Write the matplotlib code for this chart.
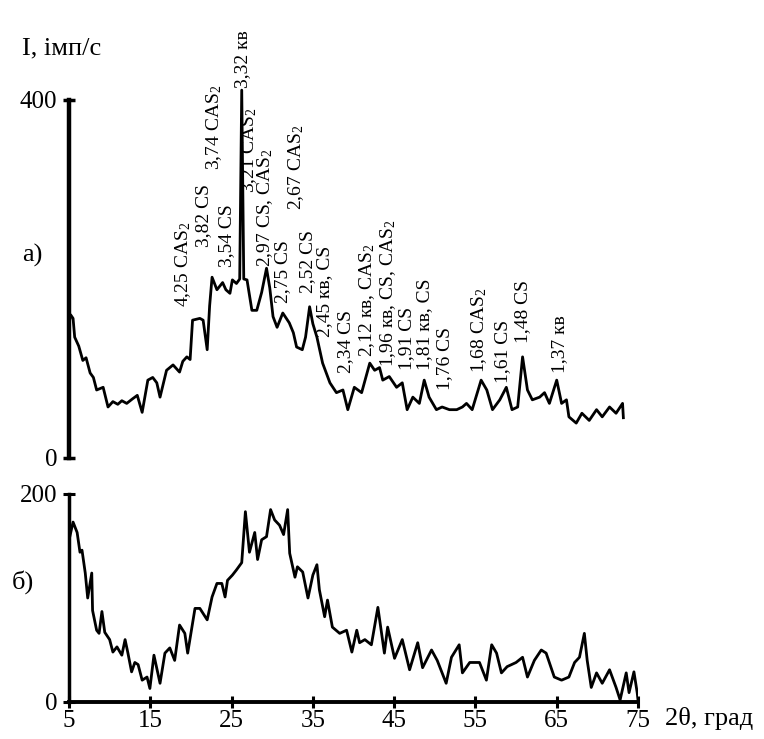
import matplotlib
matplotlib.use("Agg")
import matplotlib.pyplot as plt

plt.rcParams['font.family'] = ['Liberation Serif', 'DejaVu Serif']
plt.rcParams['mathtext.fontset'] = 'custom'
plt.rcParams['mathtext.rm'] = 'Liberation Serif'
plt.rcParams['mathtext.it'] = 'Liberation Serif:italic'

# а) дифрактограма (2θ, град ; I, імп/с)
theta_a = [5.0, 5.2, 5.5, 5.7, 6.2, 6.7, 7.1, 7.6, 8.0, 8.4, 9.2, 9.8, 10.4, 11.0,
           11.5, 12.1, 12.8, 13.4, 14.0, 14.7, 15.3, 15.8, 16.2, 17.0, 17.8, 18.6,
           19.0, 19.5, 19.9, 20.2, 21.1, 21.5, 22.0, 22.3, 22.6, 23.2, 23.9, 24.3,
           24.8, 25.1, 25.6, 26.0, 26.25, 26.5, 26.9, 27.5, 28.1, 28.7, 29.3, 29.7,
           30.1, 30.6, 31.3, 32.1, 32.6, 33.0, 33.7, 34.1, 34.6, 35.0, 35.5, 36.2,
           37.1, 37.9, 38.7, 39.3, 40.1, 41.0, 42.0, 42.6, 43.2, 43.6, 44.4, 45.3,
           46.0, 46.6, 47.3, 48.1, 48.7, 49.3, 50.2, 50.9, 51.8, 52.7, 53.4, 53.9,
           54.6, 55.7, 56.4, 57.1, 58.0, 58.8, 59.5, 60.2, 60.8, 61.4, 62.0, 62.9,
           63.5, 64.1, 65.0, 65.6, 66.2, 66.5, 67.4, 68.1, 69.0, 69.9, 70.6, 71.5,
           72.3, 73.1, 73.2]
int_a = [150, 160, 156, 135, 125, 109, 112, 95, 90, 76, 79, 57, 63, 60,
         64, 61, 66, 70, 51, 87, 90, 84, 68, 98, 104, 96,
         108, 113, 110, 154, 156, 154, 121, 170, 202, 188, 196, 188,
         184, 199, 195, 200, 411, 200, 199, 165, 165, 185, 212, 190,
         158, 146, 162, 151, 140, 124, 121, 135, 169, 150, 135, 106,
         84, 73, 76, 54, 79, 73, 106, 98, 101, 87, 91, 79,
         84, 54, 68, 61, 87, 68, 54, 57, 54, 54, 57, 61,
         54, 87, 76, 54, 65, 79, 54, 57, 113, 76, 65, 68,
         73, 61, 87, 61, 65, 46, 39, 50, 42, 54, 46, 57,
         50, 61, 45]

# б) дифрактограма
theta_b = [5.1, 5.5, 6.0, 6.35, 6.6, 7.0, 7.3, 7.8, 7.9, 8.4, 8.7, 9.05, 9.4, 10.0,
           10.4, 10.9, 11.5, 11.9, 12.25, 12.7, 13.1, 13.5, 14.0, 14.6, 14.95, 15.45,
           16.2, 16.8, 17.4, 18.0, 18.6, 19.25, 19.6, 20.5, 21.1, 22.0, 22.6, 23.2,
           23.8, 24.2, 24.5, 25.1, 25.6, 26.25, 26.7, 27.2, 27.85, 28.2, 28.7, 29.3,
           29.8, 30.3, 30.9, 31.4, 31.9, 32.15, 32.8, 33.1, 33.75, 34.4, 35.0, 35.5,
           35.8, 36.45, 36.8, 37.4, 38.3, 39.15, 39.8, 40.4, 40.75, 41.4, 42.2, 43.0,
           43.8, 44.2, 45.05, 46.0, 46.9, 47.9, 48.5, 49.6, 50.3, 51.4, 52.05, 53.0,
           53.4, 54.3, 55.5, 56.35, 57.0, 57.6, 58.2, 58.9, 60.0, 60.8, 61.4, 62.25,
           63.1, 63.7, 64.7, 65.6, 66.5, 67.2, 67.8, 68.4, 68.75, 69.25, 69.9, 70.6,
           71.5, 72.3, 72.8, 73.55, 73.9, 74.5, 74.9, 75.0]
int_b = [159, 173, 163, 144, 146, 124, 100, 124, 88, 69, 66, 87, 67, 60,
         48, 53, 45, 60, 47, 29, 38, 36, 21, 24, 13, 45,
         18, 47, 52, 40, 74, 66, 47, 90, 90, 79, 101, 114,
         114, 101, 117, 122, 127, 134, 183, 144, 163, 137, 156, 159,
         185, 175, 170, 161, 185, 143, 120, 130, 125, 100, 122, 132,
         108, 82, 98, 72, 66, 69, 48, 69, 57, 60, 55, 91,
         47, 72, 42, 60, 31, 57, 33, 50, 40, 18, 43, 55,
         28, 38, 38, 21, 55, 47, 28, 34, 38, 43, 24, 40,
         50, 47, 24, 21, 24, 38, 43, 66, 40, 14, 28, 18,
         31, 14, 2, 28, 9, 29, 9, 2]

# підписи піків (текст, 2θ, висота початку підпису)
peak_labels = ["4,25 CAS$_2$", "3,82 CS", "3,74 CAS$_2$", "3,54 CS", "3,32 кв",
               "3,21 CAS$_2$", "2,97 CS, CAS$_2$", "2,75 CS", "2,67 CAS$_2$",
               "2,52 CS", "2,45 кв, CS", "2,34 CS", "2,12 кв, CAS$_2$",
               "1,96 кв, CS, CAS$_2$", "1,91 CS", "1,81 кв, CS", "1,76 CS",
               "1,68 CAS$_2$", "1,61 CS", "1,48 CS", "1,37 кв"]
peak_theta = [19.0, 21.5, 22.9, 24.4, 26.4, 27.1, 29.1, 31.3, 32.9, 34.3, 36.5,
              39.0, 41.7, 44.2, 46.5, 48.7, 51.2, 55.5, 58.3, 60.8, 65.3]
peak_base = [169, 236, 322, 213, 413, 296, 213, 173, 277, 184, 135,
             95, 113, 102, 98, 98, 76, 95, 84, 128, 95]

W, H = 764, 739
fig = plt.figure(figsize=(W / 100, H / 100), dpi=100)

ax1 = fig.add_axes([69 / W, 1 - 458 / H, (638 - 69) / W, (458 - 80) / H])
ax2 = fig.add_axes([69 / W, 1 - 702 / H, (638 - 69) / W, (702 - 494) / H])

# верхня
ax1.plot(theta_a, int_a, color='black', lw=2.0)
ax1.set_xlim(5, 75)
ax1.set_ylim(0, (458 - 80) / 0.895)
for s in ['top', 'right', 'bottom']:
    ax1.spines[s].set_visible(False)
ax1.spines['left'].set_linewidth(3.2)
ax1.spines['left'].set_bounds(0, 400)
ax1.set_xticks([])
ax1.set_yticks([0, 400])
ax1.tick_params(axis='y', direction='inout', length=9, width=2.5, pad=4, labelsize=18)

for txt, tx, ty in zip(peak_labels, peak_theta, peak_base):
    ax1.text(tx, ty, txt, rotation=90, ha='center', va='bottom', fontsize=14,
             clip_on=False)

# нижня
ax2.plot(theta_b, int_b, color='black', lw=2.0)
ax2.set_xlim(5, 75)
ax2.set_ylim(0, 200)
ax2.spines['top'].set_visible(False)
ax2.spines['right'].set_visible(False)
ax2.spines['left'].set_linewidth(2.5)
ax2.spines['bottom'].set_linewidth(2.8)
ax2.set_xticks(range(5, 76, 10))
ax2.set_yticks([0, 200])
ax2.tick_params(direction='inout', length=9, width=2.2, labelsize=18)
ax2.tick_params(axis='x', pad=1)
ax2.tick_params(axis='y', pad=4)

fig.text(22 / W, 1 - 48 / H, "I, імп/с", fontsize=19, ha='left', va='center')
fig.text(22 / W, 1 - 255 / H, "а)", fontsize=19, ha='left', va='center')
fig.text(12 / W, 1 - 582 / H, "б)", fontsize=19, ha='left', va='center')
fig.text(665 / W, 1 - 719 / H, "2θ, град", fontsize=19, ha='left', va='center')

fig.savefig("out.png", dpi=100)
